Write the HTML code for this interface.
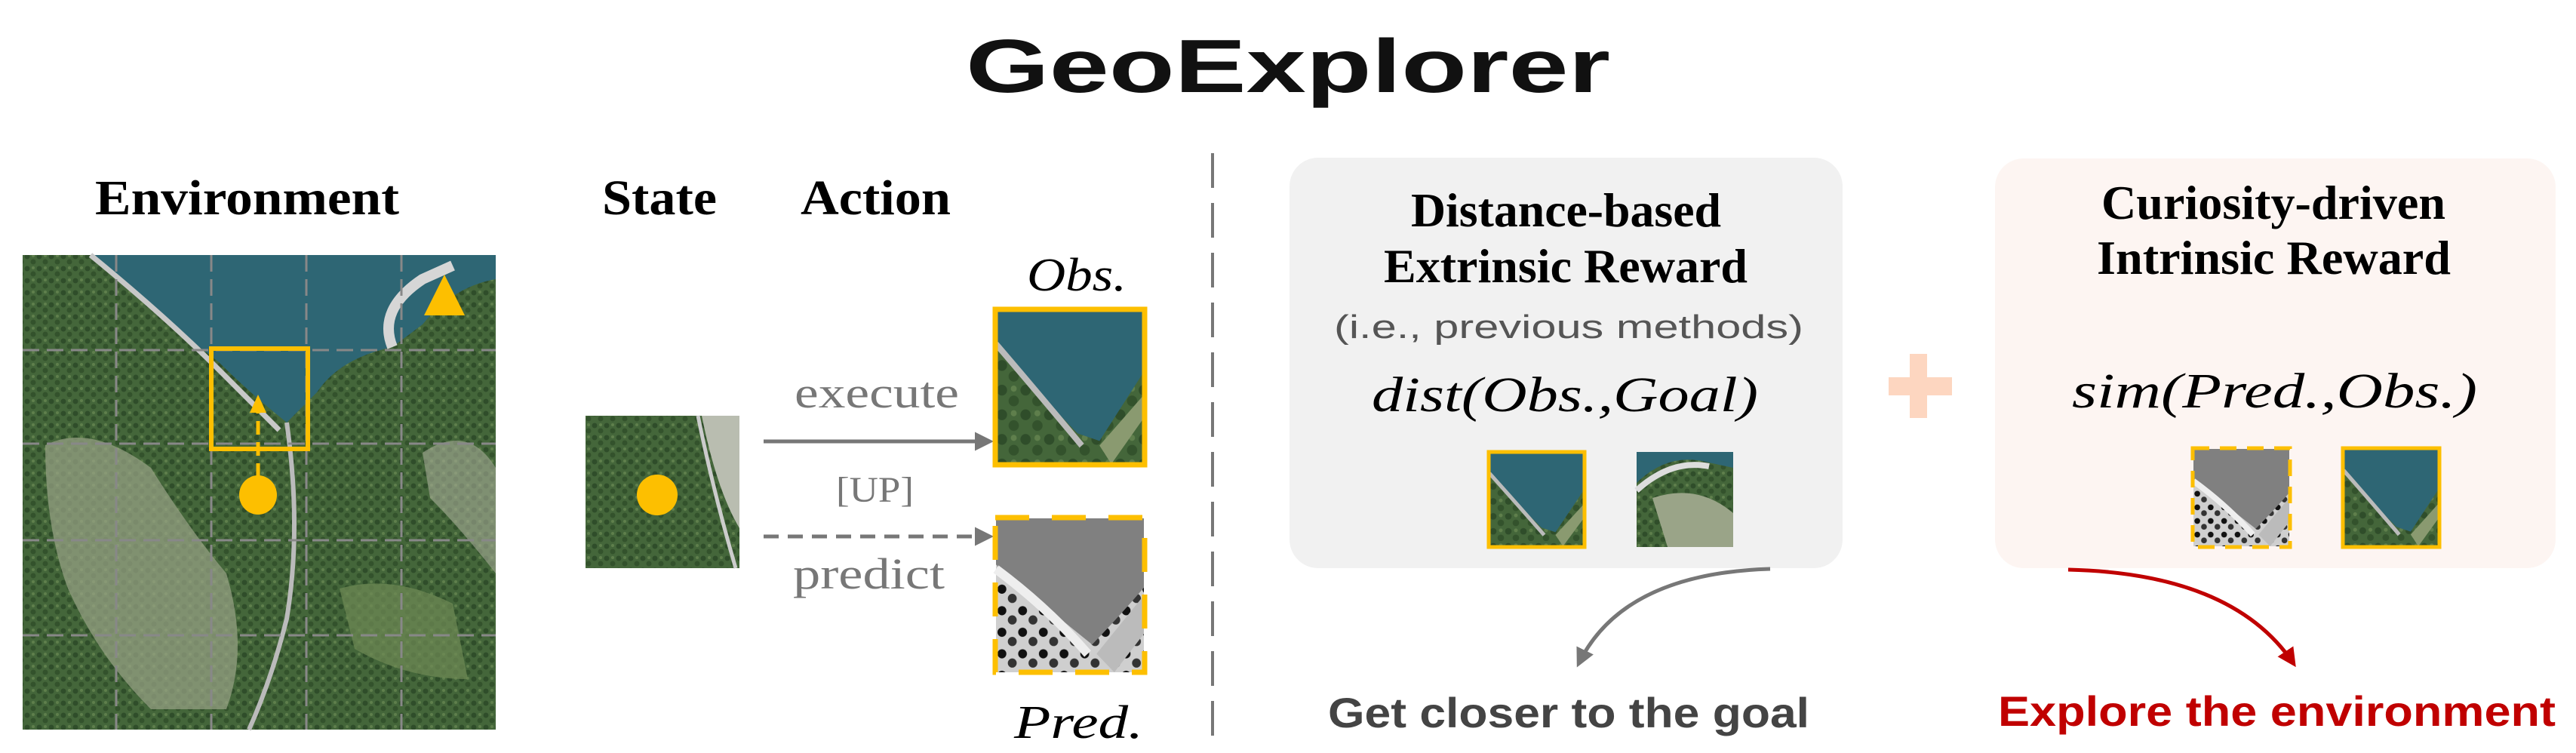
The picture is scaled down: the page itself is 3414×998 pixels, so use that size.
<!DOCTYPE html>
<html><head><meta charset="utf-8"><style>
html,body{margin:0;padding:0;background:#fff;}
svg{display:block;}
</style></head><body>
<svg width="3414" height="998" viewBox="0 0 3414 998" xmlns="http://www.w3.org/2000/svg">
<defs>
  <pattern id="forest" width="16" height="16" patternUnits="userSpaceOnUse">
    <rect width="16" height="16" fill="#44663a"/>
    <circle cx="4" cy="4" r="3.5" fill="#2f4d2a"/>
    <circle cx="12" cy="11" r="3.5" fill="#33522c"/>
    <circle cx="12" cy="3" r="2" fill="#5f7f4c"/>
  </pattern>
  <pattern id="bw" width="14" height="14" patternUnits="userSpaceOnUse">
    <rect width="14" height="14" fill="#cfcfcf"/>
    <circle cx="4" cy="4" r="3" fill="#111"/>
    <circle cx="11" cy="10" r="3" fill="#333"/>
  </pattern>
  <marker id="ag" viewBox="0 0 10 10" refX="8" refY="5" markerWidth="5" markerHeight="5" orient="auto"><path d="M0,0 L10,5 L0,10 z" fill="#777"/></marker>
  <marker id="ar" viewBox="0 0 10 10" refX="8" refY="5" markerWidth="5" markerHeight="5" orient="auto"><path d="M0,0 L10,5 L0,10 z" fill="#c00000"/></marker>
  <g id="obsimg">
    <rect x="0" y="0" width="100" height="100" fill="url(#forest)"/>
    <path d="M0,0 H100 V40 Q90,55 70,85 L55,80 Q20,45 0,20 z" fill="#2e6674"/>
    <path d="M0,22 Q25,50 58,88" stroke="#bbb" stroke-width="4" fill="none"/>
    <path d="M70,88 L100,55 V70 L78,100 z" fill="#8a9a70"/>
  </g>
  <g id="predimg">
    <rect x="0" y="0" width="100" height="100" fill="url(#bw)"/>
    <path d="M0,0 H100 V45 Q85,62 65,82 Q30,55 0,30 z" fill="#808080"/>
    <path d="M0,33 Q35,58 62,88" stroke="#eee" stroke-width="6" fill="none"/>
    <path d="M68,88 L100,50 V75 L80,100 z" fill="#bbb"/>
  </g>
</defs>

<text x="1707" y="122" font-family="Liberation Sans, sans-serif" font-weight="bold" font-size="100" textLength="854" lengthAdjust="spacingAndGlyphs" text-anchor="middle" fill="#111">GeoExplorer</text>

<g font-family="Liberation Serif, serif" font-weight="bold" font-size="66" fill="#000">
<text x="126" y="284" textLength="403" lengthAdjust="spacingAndGlyphs">Environment</text>
<text x="798" y="284" textLength="152" lengthAdjust="spacingAndGlyphs">State</text>
<text x="1061" y="284" textLength="199" lengthAdjust="spacingAndGlyphs">Action</text>
</g>

<g>
  <rect x="30" y="338" width="627" height="629" fill="url(#forest)"/>
  <path d="M120,338 H657 V370 Q600,380 560,430 L520,460 Q450,475 420,520 L380,560 Q330,520 290,480 Q200,410 120,338 z" fill="#2e6674"/>
  <path d="M120,338 Q220,420 290,490 Q340,540 370,570" stroke="#c8c8c8" stroke-width="7" fill="none"/>
  <path d="M520,460 Q500,410 560,370 L600,352" stroke="#d6d6d6" stroke-width="14" fill="none"/>
  <path d="M60,590 Q120,560 200,620 Q250,700 300,760 Q330,860 300,940 L200,940 Q130,870 90,780 Q60,700 60,590 z" fill="#9aa488" opacity="0.7"/>
  <path d="M380,560 Q400,700 380,820 Q360,900 330,967" stroke="#bbb" stroke-width="6" fill="none"/>
  <path d="M450,780 Q520,760 600,800 L620,900 Q540,900 470,860 z" fill="#6f8a55" opacity="0.7"/>
  <path d="M560,600 Q620,560 657,620 V760 Q610,700 570,660 z" fill="#a6ac98" opacity="0.6"/>
  <g stroke="#888" stroke-width="3" stroke-dasharray="22,10" fill="none">
    <line x1="154" y1="338" x2="154" y2="967"/><line x1="280" y1="338" x2="280" y2="967"/>
    <line x1="406" y1="338" x2="406" y2="967"/><line x1="532" y1="338" x2="532" y2="967"/>
    <line x1="30" y1="464" x2="657" y2="464"/><line x1="30" y1="588" x2="657" y2="588"/>
    <line x1="30" y1="716" x2="657" y2="716"/><line x1="30" y1="842" x2="657" y2="842"/>
  </g>
  <rect x="280" y="462" width="128" height="133" fill="none" stroke="#fdbf00" stroke-width="6"/>
  <line x1="342" y1="632" x2="342" y2="545" stroke="#fdbf00" stroke-width="5" stroke-dasharray="18,10"/>
  <path d="M342,523 L331,547 H353 z" fill="#fdbf00"/>
  <ellipse cx="342" cy="656" rx="25" ry="26" fill="#fdbf00"/>
  <path d="M589,364 L562,418 H616 z" fill="#fdbf00"/>
</g>

<rect x="776" y="551" width="204" height="202" fill="url(#forest)"/>
<path d="M930,551 Q950,650 980,700 V551 z" fill="#b9bdb0"/>
<path d="M925,551 Q945,650 975,753" stroke="#ccc" stroke-width="5" fill="none"/>
<ellipse cx="871" cy="656" rx="27" ry="27" fill="#fdbf00"/>

<line x1="1012" y1="585" x2="1312" y2="585" stroke="#777" stroke-width="5" marker-end="url(#ag)"/>
<line x1="1012" y1="711" x2="1312" y2="711" stroke="#777" stroke-width="5" stroke-dasharray="20,12" marker-end="url(#ag)"/>
<g font-family="Liberation Serif, serif" font-size="58" fill="#777">
<text x="1053" y="540" textLength="218" lengthAdjust="spacingAndGlyphs">execute</text>
<text x="1108" y="665" font-size="48" textLength="103" lengthAdjust="spacingAndGlyphs">[UP]</text>
<text x="1051" y="780" textLength="201" lengthAdjust="spacingAndGlyphs">predict</text>
</g>

<g font-family="Liberation Serif, serif" font-style="italic" font-size="62" fill="#000">
<text x="1361" y="385" textLength="132" lengthAdjust="spacingAndGlyphs">Obs.</text>
<text x="1344" y="978" textLength="171" lengthAdjust="spacingAndGlyphs">Pred.</text>
</g>
<use href="#obsimg" transform="translate(1320,411) scale(1.96,2.04)"/>
<rect x="1319" y="410" width="198" height="206" fill="none" stroke="#fdbf00" stroke-width="7"/>
<use href="#predimg" transform="translate(1320,687) scale(1.96,2.04)"/>
<rect x="1319" y="686" width="198" height="205" fill="none" stroke="#fdbf00" stroke-width="7" stroke-dasharray="45,30"/>

<line x1="1607" y1="203" x2="1607" y2="976" stroke="#777" stroke-width="4" stroke-dasharray="46,20"/>

<rect x="1709" y="209" width="733" height="544" rx="38" fill="#f1f1f1"/>
<g font-family="Liberation Serif, serif" font-weight="bold" font-size="64" fill="#000">
<text x="1870" y="300" textLength="411" lengthAdjust="spacingAndGlyphs">Distance-based</text>
<text x="1834" y="374" textLength="482" lengthAdjust="spacingAndGlyphs">Extrinsic Reward</text>
</g>
<text x="1768" y="448" font-family="Liberation Sans, sans-serif" font-size="44" fill="#555" textLength="622" lengthAdjust="spacingAndGlyphs">(i.e., previous methods)</text>
<text x="1818" y="545" font-family="Liberation Serif, serif" font-style="italic" font-size="66" fill="#000" textLength="512" lengthAdjust="spacingAndGlyphs">dist(Obs.,Goal)</text>
<use href="#obsimg" transform="translate(1974,600) scale(1.25,1.24)"/>
<rect x="1973" y="599" width="127" height="126" fill="none" stroke="#fdbf00" stroke-width="5"/>
<rect x="2169" y="599" width="128" height="126" fill="url(#forest)"/>
<path d="M2169,640 Q2210,600 2260,612 L2297,620 V599 H2169 z" fill="#2e6674"/>
<path d="M2169,650 Q2215,608 2265,618" stroke="#ddd" stroke-width="8" fill="none"/>
<path d="M2190,660 Q2250,640 2297,680 V725 H2210 z" fill="#9aa488"/>

<rect x="2531" y="469" width="23" height="85" fill="#fdd6c0"/>
<rect x="2503" y="500" width="84" height="24" fill="#fdd6c0"/>

<rect x="2644" y="210" width="743" height="543" rx="38" fill="#fdf5f2"/>
<g font-family="Liberation Serif, serif" font-weight="bold" font-size="64" fill="#000">
<text x="2785" y="290" textLength="456" lengthAdjust="spacingAndGlyphs">Curiosity-driven</text>
<text x="2779" y="363" textLength="469" lengthAdjust="spacingAndGlyphs">Intrinsic Reward</text>
</g>
<text x="2746" y="540" font-family="Liberation Serif, serif" font-style="italic" font-size="66" fill="#000" textLength="537" lengthAdjust="spacingAndGlyphs">sim(Pred.,Obs.)</text>
<use href="#predimg" transform="translate(2907,595) scale(1.27,1.29)"/>
<rect x="2906" y="594" width="129" height="131" fill="none" stroke="#fdbf00" stroke-width="5" stroke-dasharray="22,14"/>
<use href="#obsimg" transform="translate(3106,595) scale(1.27,1.29)"/>
<rect x="3105" y="594" width="128" height="131" fill="none" stroke="#fdbf00" stroke-width="5"/>

<path d="M2346,754 Q2150,760 2092,880" stroke="#777" stroke-width="5" fill="none" marker-end="url(#ag)"/>
<path d="M2741,755 Q2960,760 3040,880" stroke="#c00000" stroke-width="5" fill="none" marker-end="url(#ar)"/>

<g font-family="Liberation Sans, sans-serif" font-weight="bold" font-size="56">
<text x="1760" y="964" fill="#444" textLength="638" lengthAdjust="spacingAndGlyphs">Get closer to the goal</text>
<text x="2648" y="962" fill="#c00000" textLength="739" lengthAdjust="spacingAndGlyphs">Explore the environment</text>
</g>
</svg>
</body></html>
